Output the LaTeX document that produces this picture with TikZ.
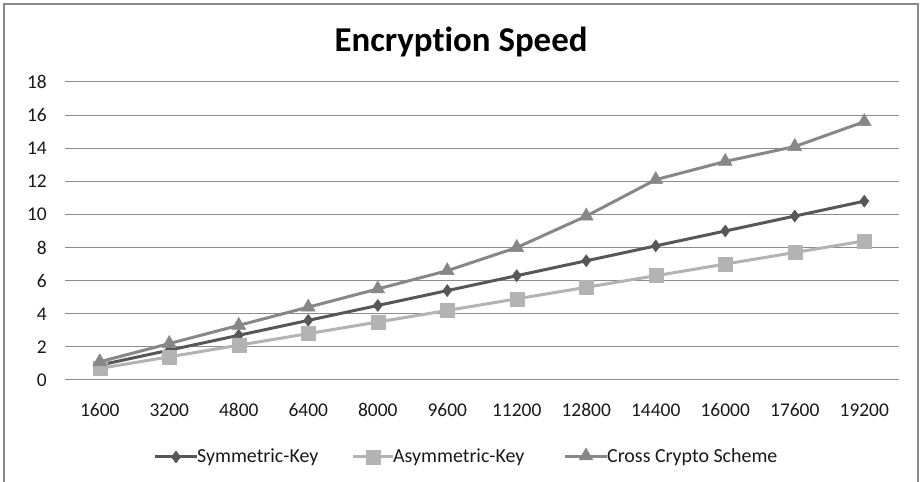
\documentclass[tikz,border=0pt]{standalone}
\usepackage{fontspec}
\setmainfont{Carlito}[Ligatures=NoCommon]
\usetikzlibrary{plotmarks}

\definecolor{frameGray}{HTML}{8A8A8A}
\definecolor{gridGray}{HTML}{8C8C8C}
\definecolor{symCol}{HTML}{575757}
\definecolor{asymCol}{HTML}{B3B3B3}
\definecolor{crossCol}{HTML}{878787}

\tikzset{
  gridline/.style={draw=gridGray, line width=1bp},
  ticklabel/.style={font=\fontsize{19.5}{19.5}\selectfont, text=black!90, inner sep=0pt},
  legendtext/.style={font=\fontsize{20}{20}\selectfont, text=black!90, inner sep=0pt, anchor=west},
  symline/.style={draw=symCol, line width=3bp, mark=diamond*, mark size=6bp,
    mark options={fill=symCol, draw=symCol, line width=0.5bp}},
  asymline/.style={draw=asymCol, line width=3bp, mark=square*, mark size=7bp,
    mark options={fill=asymCol, draw=asymCol, line width=0.5bp}},
  crossline/.style={draw=crossCol, line width=3bp, mark=triangle*, mark size=8bp,
    mark options={fill=crossCol, draw=crossCol, line width=0.5bp}},
}

\begin{document}
\begin{tikzpicture}[x=1bp, y=1bp]
  \useasboundingbox (0,0) rectangle (920,482);
  \fill[white] (0,0) rectangle (920,482);

  % chart frame (open at the bottom edge)
  \draw[frameGray, line width=1.5bp] (4,-10) rectangle (918,478);

  % title
  \node[font=\bfseries\fontsize{35}{35}\selectfont, inner sep=0pt, anchor=base] (title) at (461,430) {Encryption Speed};

  % plot area: one unit in x = one category, one unit in y = one second
  \begin{scope}[shift={(65,102)}, x=69.5bp, y=16.556bp]
    \foreach \v in {0,2,...,18} {
      \draw[gridline] (0,\v) -- (12,\v);
      \node[ticklabel, anchor=east] (ylab\v) at ([xshift=-18bp]0,\v) {\v};
    }
    \foreach \c [count=\i from 0] in {1600,3200,4800,6400,8000,9600,11200,12800,14400,16000,17600,19200} {
      \node[ticklabel] (xlab\i) at ([yshift=-30bp]\i+0.5,0) {\c};
    }

    \draw[symline] plot coordinates {
      (0.5,0.9) (1.5,1.8) (2.5,2.7) (3.5,3.6) (4.5,4.5) (5.5,5.4)
      (6.5,6.3) (7.5,7.2) (8.5,8.1) (9.5,9.0) (10.5,9.9) (11.5,10.8)};
    \draw[asymline] plot coordinates {
      (0.5,0.7) (1.5,1.4) (2.5,2.1) (3.5,2.8) (4.5,3.5) (5.5,4.2)
      (6.5,4.9) (7.5,5.6) (8.5,6.3) (9.5,7.0) (10.5,7.7) (11.5,8.4)};
    \draw[crossline] plot coordinates {
      (0.5,1.1) (1.5,2.2) (2.5,3.3) (3.5,4.4) (4.5,5.5) (5.5,6.6)
      (6.5,8.0) (7.5,9.9) (8.5,12.1) (9.5,13.2) (10.5,14.1) (11.5,15.6)};
  \end{scope}

  % legend
  \coordinate (symA) at (155,25);   \coordinate (symB) at (197,25);
  \coordinate (asymA) at (353,25);  \coordinate (asymB) at (393,25);
  \coordinate (crossA) at (565,25); \coordinate (crossB) at (607,25);
  \draw[draw=symCol, line width=3bp] (symA) -- (symB);
  \draw[draw=asymCol, line width=3bp] (asymA) -- (asymB);
  \draw[draw=crossCol, line width=3bp] (crossA) -- (crossB);
  \path[symline, draw=none] plot coordinates {(176,25)};
  \path[asymline, draw=none] plot coordinates {(373,25)};
  \path[crossline, draw=none] plot coordinates {(586,26)};
  \node[legendtext] (legSym) at (symB) {Symmetric-Key};
  \node[legendtext] (legAsym) at (asymB) {Asymmetric-Key};
  \node[legendtext] (legCross) at (crossB) {Cross Crypto Scheme};
\end{tikzpicture}
\end{document}
